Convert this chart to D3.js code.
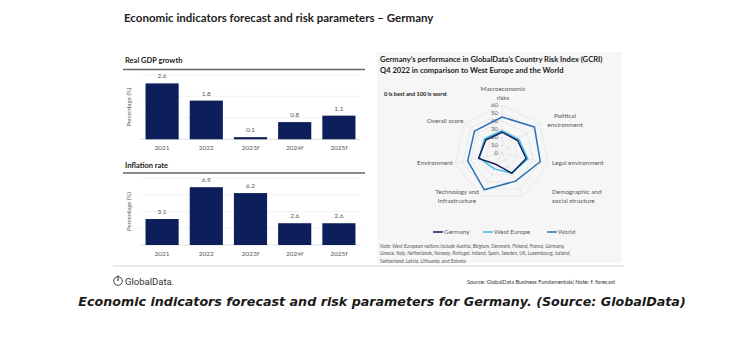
<!DOCTYPE html>
<html>
<head>
<meta charset="utf-8">
<script src="https://cdn.jsdelivr.net/npm/d3@7"></script>
<style>
  body { margin: 0; background: #fff; }
  svg { display: block; font-family: Lato, "Open Sans", sans-serif; }
</style>
</head>
<body>
<div id="chart"></div>
<script>
const years = ["2021", "2022", "2023f", "2024f", "2025f"];
const gdpGrowth = [2.6, 1.8, 0.1, 0.8, 1.1];
const inflation = [3.1, 6.9, 6.2, 2.6, 2.6];
const gdpTicks = [0, 1, 2, 3];
const inflTicks = [0, 2, 4, 6, 8];

const riskAxes = [
  ["Macroeconomic", "risks"],
  ["Political", "environment"],
  ["Legal environment"],
  ["Demographic and", "social structure"],
  ["Technology and", "Infrastructure"],
  ["Environment"],
  ["Overall score"]
];
const germany    = [26, 25, 31, 28, 16, 30, 26];
const westEurope = [28, 27, 33, 28, 22, 29, 28];
const world      = [45, 52, 49, 39, 51, 44, 44];
const riskTicks  = [0, 10, 20, 30, 40, 50, 60];
const seriesNames = ["Germany", "West Europe", "World"];

const W = 750, H = 354;
const navy = "#0c1f5a", grey = "#595959";

const svg = d3.select("#chart").append("svg")
  .attr("width", W).attr("height", H);

// titles
svg.append("text").attr("x", 124).attr("y", 22)
  .attr("font-size", 11.5).attr("font-weight", 700).attr("fill", "#222")
  .text("Economic indicators forecast and risk parameters \u2013 Germany");

// --- bar panels ---
const x = d3.scaleBand().domain(years).range([140, 361])
  .paddingInner(0.25).paddingOuter(0.125);

function barPanel(title, titleY, ruleY, values, ticks, y) {
  const g = svg.append("g");
  g.append("text").attr("x", 125).attr("y", titleY)
    .attr("font-size", 7.5).attr("font-weight", 700).attr("fill", "#222")
    .text(title);
  g.append("line").attr("x1", 123).attr("x2", 365)
    .attr("y1", ruleY).attr("y2", ruleY)
    .attr("stroke", "#666").attr("stroke-width", 1.3);

  g.selectAll("line.grid").data(ticks).join("line")
    .attr("class", "grid")
    .attr("x1", 140).attr("x2", 361)
    .attr("y1", d => y(d)).attr("y2", d => y(d))
    .attr("stroke", d => d === 0 ? "#d9d9d9" : "#f0f0f0").attr("stroke-width", 0.8);

  g.selectAll("rect").data(values).join("rect")
    .attr("x", (d, i) => x(years[i])).attr("width", x.bandwidth())
    .attr("y", d => y(d)).attr("height", d => y(0) - y(d))
    .attr("fill", navy);

  g.selectAll("text.val").data(values).join("text")
    .attr("class", "val")
    .attr("x", (d, i) => x(years[i]) + x.bandwidth() / 2)
    .attr("y", d => y(d) - 5)
    .attr("text-anchor", "middle").attr("font-size", 6.5).attr("fill", grey)
    .text(d => d.toFixed(1));

  const ax = g.append("g").attr("transform", `translate(0,${y(0) + 3})`)
    .call(d3.axisBottom(x).tickSize(0));
  ax.select(".domain").remove();
  ax.attr("font-family", null);
  ax.selectAll("text").attr("font-size", 6.5).attr("fill", grey);

  const [r0, r1] = y.range();
  g.append("text")
    .attr("transform", `translate(131,${(r0 + r1) / 2}) rotate(-90)`)
    .attr("text-anchor", "middle").attr("font-size", 6).attr("fill", grey)
    .text("Percentage (%)");
}

barPanel("Real GDP growth", 63, 69.5, gdpGrowth, gdpTicks,
  d3.scaleLinear().domain([0, 3]).range([139.3, 74.8]));
barPanel("Inflation rate", 168, 173, inflation, inflTicks,
  d3.scaleLinear().domain([0, 8]).range([245, 178]));

// --- radar panel ---
svg.append("rect").attr("x", 377).attr("y", 52).attr("width", 245).attr("height", 211)
  .attr("fill", "#f6f6f6");

svg.append("text").attr("x", 380).attr("y", 62)
  .attr("font-size", 7.6).attr("font-weight", 700).attr("fill", "#222")
  .text("Germany\u2019s performance in GlobalData\u2019s Country Risk Index (GCRI)");
svg.append("text").attr("x", 380).attr("y", 73)
  .attr("font-size", 7.6).attr("font-weight", 700).attr("fill", "#222")
  .text("Q4 2022 in comparison to West Europe and the World");
svg.append("text").attr("x", 384).attr("y", 96)
  .attr("font-size", 5.6).attr("font-weight", 700).attr("fill", "#222")
  .text("0 is best and 100 is worst");

const cx = 502, cy = 153;
const r = d3.scaleLinear().domain([0, 60]).range([0, 48]);
const n = riskAxes.length;
const ang = i => i * 2 * Math.PI / n;
const pt = (v, i) => [cx + r(v) * Math.sin(ang(i)), cy - r(v) * Math.cos(ang(i))];

const rg = svg.append("g");
rg.selectAll("path.ring").data(riskTicks.slice(1)).join("path")
  .attr("class", "ring")
  .attr("d", t => d3.line()(d3.range(n).map(i => pt(t, i))) + "Z")
  .attr("fill", "none").attr("stroke", "#e2e2e2").attr("stroke-width", 0.7);
rg.selectAll("line.spoke").data(d3.range(n)).join("line")
  .attr("class", "spoke")
  .attr("x1", cx).attr("y1", cy)
  .attr("x2", i => pt(60, i)[0]).attr("y2", i => pt(60, i)[1])
  .attr("stroke", "#e2e2e2").attr("stroke-width", 0.7);

rg.selectAll("text.tick").data(riskTicks).join("text")
  .attr("class", "tick")
  .attr("x", cx - 4).attr("y", t => cy - r(t) + 2)
  .attr("text-anchor", "end").attr("font-size", 6).attr("fill", grey)
  .text(d => d);

const labelPos = [
  [503, 91, "middle"], [565, 118, "middle"], [552, 165, "start"],
  [552, 194, "start"], [457, 194, "middle"], [435, 165, "middle"], [445, 123, "middle"]
];
riskAxes.forEach((lines, i) => {
  const [lx, ly, anchor] = labelPos[i];
  const t = rg.append("text").attr("x", lx).attr("y", ly)
    .attr("text-anchor", anchor).attr("font-size", 6.4).attr("fill", grey);
  lines.forEach((s, k) => t.append("tspan").attr("x", lx).attr("dy", k ? 9 : 0).text(s));
});

const colors = ["#10225a", "#41b6e6", "#2a72b8"];
const seriesData = [germany, westEurope, world];
const order = [2, 1, 0];
order.forEach(s => {
  rg.append("path")
    .attr("d", d3.line()(seriesData[s].map((v, i) => pt(v, i))) + "Z")
    .attr("fill", "none").attr("stroke", colors[s]).attr("stroke-width", 1.5)
    .attr("stroke-linejoin", "round");
});

// legend
const legX = [433, 483, 547];
seriesNames.forEach((name, i) => {
  svg.append("line").attr("x1", legX[i]).attr("x2", legX[i] + 10)
    .attr("y1", 232).attr("y2", 232).attr("stroke", colors[i]).attr("stroke-width", 1.5);
  svg.append("text").attr("x", legX[i] + 11).attr("y", 234.2)
    .attr("font-size", 6.4).attr("fill", grey).text(name);
});

const note = [
  "Note: West European nations include Austria, Belgium, Denmark, Finland, France, Germany,",
  "Greece, Italy, Netherlands, Norway, Portugal, Ireland, Spain, Sweden, UK, Luxembourg, Iceland,",
  "Switzerland, Latvia, Lithuania, and Estonia"
];
svg.selectAll("text.note").data(note).join("text")
  .attr("class", "note")
  .attr("x", 380).attr("y", (d, i) => 248 + i * 7.3)
  .attr("font-size", 4.9).attr("font-style", "italic").attr("fill", grey)
  .text(d => d);

// footer
svg.append("line").attr("x1", 113).attr("x2", 624).attr("y1", 266).attr("y2", 266)
  .attr("stroke", "#e3e3e3").attr("stroke-width", 1.5);

const logo = svg.append("g").attr("transform", "translate(118,281)");
logo.append("circle").attr("r", 4.3).attr("fill", "none")
  .attr("stroke", "#444").attr("stroke-width", 1);
logo.append("line").attr("x1", 0).attr("y1", -5.5).attr("x2", 0).attr("y2", 0)
  .attr("stroke", "#444").attr("stroke-width", 1.2);
svg.append("text").attr("x", 125).attr("y", 284.5)
  .attr("font-size", 9.5).attr("fill", "#333")
  .style("font-family", "Roboto, sans-serif")
  .text("GlobalData.");

svg.append("text").attr("x", 615).attr("y", 284)
  .attr("text-anchor", "end").attr("font-size", 5.6).attr("fill", "#333")
  .text("Source: GlobalData Business Fundamentals| Note: f: forecast");

const caption = svg.append("text").attr("x", 382).attr("y", 305.5)
  .attr("text-anchor", "middle")
  .style("font-family", "'DejaVu Sans', Verdana, sans-serif")
  .attr("font-size", 12.4).attr("font-weight", 700).attr("font-style", "italic")
  .attr("fill", "#1a1a1a")
  .text("Economic indicators forecast and risk parameters for Germany. (Source: GlobalData)");
// fit caption to the width seen in the reference
const capW = caption.node().getComputedTextLength();
caption.attr("font-size", 12.4 * 608 / capW);
</script>
</body>
</html>
